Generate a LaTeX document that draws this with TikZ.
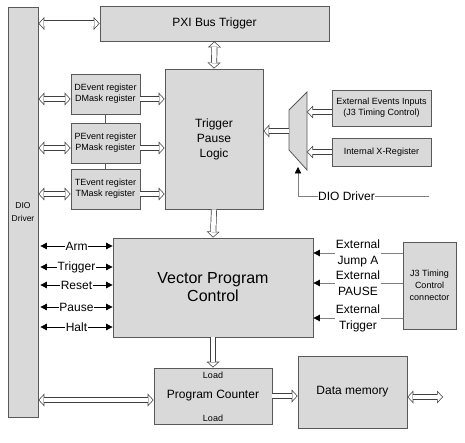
\documentclass[tikz,border=0pt]{standalone}
\usepackage{fontspec}
\setmainfont{Liberation Sans}
\usetikzlibrary{arrows.meta}

\begin{document}
\begin{tikzpicture}[x=1pt,y=-1pt,
    blk/.style={draw=black!65,fill=gray!30,line width=0.8pt,inner sep=0pt,align=center},
    fat/.style={draw=white,line width=4.6pt,shorten >=0.95pt,-{Triangle[length=4.35pt,width=9.4pt,line width=0pt]},
        preaction={draw=black!75,line width=6pt,shorten >=0pt,-{Triangle[length=6pt,width=13pt,line width=0pt]}}},
    fatboth/.style={draw=white,line width=4.6pt,shorten >=0.95pt,shorten <=0.95pt,
        {Triangle[length=4.35pt,width=9.4pt,line width=0pt]}-{Triangle[length=4.35pt,width=9.4pt,line width=0pt]},
        preaction={draw=black!75,line width=6pt,shorten >=0pt,shorten <=0pt,
        {Triangle[length=6pt,width=13pt,line width=0pt]}-{Triangle[length=6pt,width=13pt,line width=0pt]}}},
    sig/.style={line width=0.8pt,{Triangle[length=6.5pt,width=6.5pt]}-{Triangle[length=6.5pt,width=6.5pt]}},
    extsig/.style={draw=black!50,line width=0.8pt,-{Triangle[length=6.5pt,width=6.5pt,color=black]}},
    lab/.style={fill=white,inner sep=0.6pt,font=\fontsize{12}{16}\selectfont,align=center},
    big/.style={font=\fontsize{12}{15}\selectfont},
    small/.style={font=\fontsize{9}{11}\selectfont}]
    \useasboundingbox (0,0) rectangle (465,443);

    % blocks
    \node[blk,minimum width=30pt,minimum height=410pt,font=\fontsize{8.5}{13}\selectfont] (dio) at (23,212) {DIO\\Driver};
    \node[blk,big,minimum width=229pt,minimum height=35pt] (pxi) at (214.5,23.5) {PXI Bus Trigger};
    \node[blk,big,minimum width=98pt,minimum height=140pt] (tpl) at (214,139) {Trigger\\Pause\\Logic};
    \node[blk,small,minimum width=69pt,minimum height=40pt] (dreg) at (105.5,94) {DEvent register\\DMask register};
    \node[blk,small,minimum width=69pt,minimum height=40pt] (preg) at (105.5,143) {PEvent register\\PMask register};
    \node[blk,small,minimum width=69pt,minimum height=40pt] (treg) at (105.5,189) {TEvent register\\TMask register};
    \node[blk,small,minimum width=99pt,minimum height=36pt] (extin) at (381.5,108) {External Events Inputs\\(J3 Timing Control)};
    \node[blk,small,minimum width=99pt,minimum height=28pt] (xreg) at (381.5,152) {Internal X-Register};
    \node[blk,font=\fontsize{16}{18}\selectfont,minimum width=200pt,minimum height=99pt] (vpc) at (213,287.5) {Vector Program\\Control};
    \node[blk,small,font=\fontsize{9}{12}\selectfont,minimum width=53pt,minimum height=87pt] (jthree) at (429.5,285.5) {J3 Timing\\Control\\connector};
    \node[blk,big,minimum width=118pt,minimum height=56pt] (pc) at (213,396) {Program Counter};
    \node[small] at ([yshift=-8pt]pc.north) {Load};
    \node[small] at ([yshift=6pt]pc.south) {Load};
    \node[blk,big,minimum width=109pt,minimum height=72pt] (dmem) at (352.5,392) {Data memory};

    % multiplexer
    \coordinate (m1) at (289,110);
    \coordinate (m2) at (307,92);
    \coordinate (m3) at (307,170);
    \coordinate (m4) at (289,150);
    \draw[draw=black!65,fill=gray!30,line width=0.8pt] (m1) -- (m2) -- (m3) -- (m4) -- cycle;
    \coordinate (muxout) at (289,131);
    \coordinate (muxa) at (307,112);
    \coordinate (muxb) at (307,152);
    \coordinate (muxsel) at (298,167);
    \coordinate (diosel) at (429,196);
    \coordinate (dmemio) at (443,397);

    % wide buses
    \draw[fatboth] (dio.east |- pxi.west) -- (pxi.west);
    \draw[fatboth] (pxi.south) -- (tpl.north);
    \foreach \r in {dreg,preg,treg}{
        \draw[fatboth] ([yshift=-5pt]dio.east |- \r.west) -- ([yshift=-5pt]\r.west);
        \draw[fat] ([yshift=-5pt]\r.east) -- ([yshift=-5pt]tpl.west |- \r.east);
    }
    \draw[draw=black!65,line width=0.8pt] (dreg.south) -- (preg.north) (preg.south) -- (treg.north);
    \draw[fat] (muxout) -- (muxout -| tpl.east);
    \draw[fat] (extin.west |- muxa) -- (muxa);
    \draw[fat] (xreg.west) -- (muxb);
    \draw[fat] (tpl.south) -- (vpc.north);
    \draw[fat] (vpc.south) -- (pc.north);
    \draw[fatboth] ([yshift=-4pt]dio.east |- pc.west) -- ([yshift=-4pt]pc.west);
    \draw[fat] (pc.east) -- (pc.east -| dmem.west);
    \draw[fatboth] (dmem.east |- dmemio) -- (dmemio);

    % control lines
    \draw[extsig] (diosel) -- node[lab,pos=0.63]{DIO Driver} (diosel -| muxsel) -- (muxsel);
    \draw[sig] ([xshift=2pt]dio.east |- 0,246) -- node[lab]{Arm} (vpc.west |- 0,246);
    \draw[sig] ([xshift=2pt]dio.east |- 0,267) -- node[lab]{Trigger} (vpc.west |- 0,267);
    \draw[sig] ([xshift=2pt]dio.east |- 0,285) -- node[lab]{Reset} (vpc.west |- 0,285);
    \draw[sig] ([xshift=2pt]dio.east |- 0,307) -- node[lab]{Pause} (vpc.west |- 0,307);
    \draw[sig] ([xshift=2pt]dio.east |- 0,327) -- node[lab]{Halt} (vpc.west |- 0,327);
    \draw[extsig] (jthree.west |- 0,253) -- node[lab]{External\\Jump A} (vpc.east |- 0,253);
    \draw[extsig] (jthree.west |- 0,283) -- node[lab]{External\\PAUSE} (vpc.east |- 0,283);
    \draw[extsig] (jthree.west |- 0,318) -- node[lab]{External\\Trigger} (vpc.east |- 0,318);
\end{tikzpicture}
\end{document}
